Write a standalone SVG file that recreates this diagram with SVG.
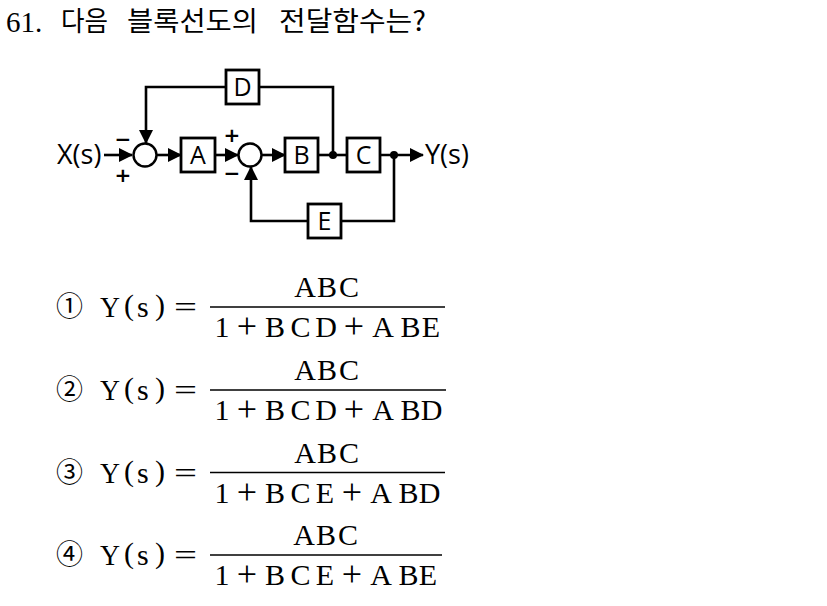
<svg xmlns="http://www.w3.org/2000/svg" width="827" height="606" viewBox="0 0 827 606">
<defs>
<marker id="ah" markerWidth="14" markerHeight="14" refX="13" refY="7" orient="auto" markerUnits="userSpaceOnUse">
<path d="M0,0 L14,7 L0,14 Z" fill="#000"/>
</marker>
<style>
.ln{fill:none;stroke:#000;stroke-width:2.6}
.bx{fill:#fff;stroke:#000;stroke-width:2.8}
.sj{fill:#fff;stroke:#000;stroke-width:2.4}
.lb{font-family:"Open Sans","Noto Sans",sans-serif;font-size:27px;fill:#000}
.bl{font-family:"Open Sans","Noto Sans",sans-serif;font-size:25px;fill:#000;text-anchor:middle}
.sg{font-family:"DejaVu Sans",sans-serif;font-size:20px;font-weight:bold;fill:#000;text-anchor:middle}
.eq{font-family:"Liberation Serif",serif;font-size:30px;fill:#000}
.mid{text-anchor:middle}
.pl{font-size:36px}
.cn{font-family:"Noto Sans CJK KR",sans-serif;font-size:27px;fill:#000}
.kr{font-family:"Noto Sans CJK KR",sans-serif;font-size:27px;fill:#000}
.fl{stroke:#000;stroke-width:1.5}
</style>
</defs>
<rect width="827" height="606" fill="#fff"/>
<g id="title">
<text font-family="'Liberation Serif',serif" font-size="29" x="6" y="32" fill="#000">61.</text>
<text class="kr" x="61" y="31" textLength="47" lengthAdjust="spacingAndGlyphs">다음</text>
<text class="kr" x="127" y="31" textLength="131" lengthAdjust="spacingAndGlyphs">블록선도의</text>
<text class="kr" x="279" y="31" textLength="147" lengthAdjust="spacingAndGlyphs">전달함수는?</text>
</g>

<g id="connectors">
<line class="ln" x1="104" y1="155" x2="132" y2="155" marker-end="url(#ah)"/>
<line class="ln" x1="156" y1="155" x2="181" y2="155" marker-end="url(#ah)"/>
<line class="ln" x1="215" y1="155" x2="238" y2="155" marker-end="url(#ah)"/>
<line class="ln" x1="262" y1="155" x2="285" y2="155" marker-end="url(#ah)"/>
<line class="ln" x1="318" y1="155" x2="347" y2="155"/>
<line class="ln" x1="380" y1="155" x2="423" y2="155" marker-end="url(#ah)"/>
<polyline class="ln" points="333,155 333,87 259,87"/>
<polyline class="ln" points="226,87 146,87 146,143" marker-end="url(#ah)"/>
<polyline class="ln" points="394,155 394,221 341,221"/>
<polyline class="ln" points="308,221 251,221 251,167" marker-end="url(#ah)"/>
<circle cx="333" cy="155" r="4" fill="#000"/>
<circle cx="394" cy="155" r="4" fill="#000"/>
</g>

<g id="input"><text class="lb" x="57" y="164">X(s)</text></g>
<g id="output"><text class="lb" x="425" y="164">Y(s)</text></g>
<g id="sum1">
<circle class="sj" cx="145" cy="155" r="11.5"/>
<text class="sg" x="123" y="146">−</text>
<text class="sg" x="123" y="182">+</text>
</g>
<g id="sum2">
<circle class="sj" cx="250" cy="155" r="11.5"/>
<text class="sg" x="232" y="142">+</text>
<text class="sg" x="232" y="180">−</text>
</g>
<g id="A"><rect class="bx" x="181" y="138" width="34" height="34"/><text class="bl" x="198" y="164">A</text></g>
<g id="B"><rect class="bx" x="285" y="138" width="33" height="34"/><text class="bl" x="301.5" y="164">B</text></g>
<g id="C"><rect class="bx" x="347" y="138" width="33" height="34"/><text class="bl" x="363.5" y="164">C</text></g>
<g id="D"><rect class="bx" x="226" y="70" width="33" height="34"/><text class="bl" x="242.5" y="96">D</text></g>
<g id="E"><rect class="bx" x="308" y="204" width="33" height="34"/><text class="bl" x="324.5" y="230">E</text></g>

<g id="opt1">
<text class="cn" x="56" y="316">①</text>
<text class="eq" x="100" y="317" font-size="32" textLength="20" lengthAdjust="spacingAndGlyphs">Y</text>
<text class="eq" x="124" y="315" font-size="32">(</text>
<text class="eq" x="137" y="317" font-size="34">s</text>
<text class="eq" x="155" y="315" font-size="32">)</text>
<text class="eq" x="174" y="317" font-size="32" textLength="23" lengthAdjust="spacingAndGlyphs">=</text>
<text class="eq mid" y="297"><tspan x="305">A</tspan><tspan x="327">B</tspan><tspan x="349">C</tspan></text>
<line class="fl" x1="210" y1="307" x2="445" y2="307"/>
<text class="eq mid" y="337"><tspan x="222">1</tspan><tspan class="pl" x="247" dy="1">+</tspan><tspan x="275" dy="-1">B</tspan><tspan x="300.5">C</tspan><tspan x="326">D</tspan><tspan class="pl" x="354" dy="1">+</tspan><tspan x="383" dy="-1">A</tspan><tspan x="410.5">B</tspan><tspan x="431">E</tspan></text>
</g>
<g id="opt2" transform="translate(0,83)">
<text class="cn" x="56" y="316">②</text>
<text class="eq" x="100" y="317" font-size="32" textLength="20" lengthAdjust="spacingAndGlyphs">Y</text>
<text class="eq" x="124" y="315" font-size="32">(</text>
<text class="eq" x="137" y="317" font-size="34">s</text>
<text class="eq" x="155" y="315" font-size="32">)</text>
<text class="eq" x="174" y="317" font-size="32" textLength="23" lengthAdjust="spacingAndGlyphs">=</text>
<text class="eq mid" y="297"><tspan x="305">A</tspan><tspan x="327">B</tspan><tspan x="349">C</tspan></text>
<line class="fl" x1="210" y1="307" x2="446" y2="307"/>
<text class="eq mid" y="337"><tspan x="222">1</tspan><tspan class="pl" x="247" dy="1">+</tspan><tspan x="275" dy="-1">B</tspan><tspan x="300.5">C</tspan><tspan x="326">D</tspan><tspan class="pl" x="354" dy="1">+</tspan><tspan x="383" dy="-1">A</tspan><tspan x="410.5">B</tspan><tspan x="431.5">D</tspan></text>
</g>
<g id="opt3" transform="translate(0,165.5)">
<text class="cn" x="56" y="316">③</text>
<text class="eq" x="100" y="317" font-size="32" textLength="20" lengthAdjust="spacingAndGlyphs">Y</text>
<text class="eq" x="124" y="315" font-size="32">(</text>
<text class="eq" x="137" y="317" font-size="34">s</text>
<text class="eq" x="155" y="315" font-size="32">)</text>
<text class="eq" x="174" y="317" font-size="32" textLength="23" lengthAdjust="spacingAndGlyphs">=</text>
<text class="eq mid" y="297"><tspan x="305">A</tspan><tspan x="327">B</tspan><tspan x="349">C</tspan></text>
<line class="fl" x1="210" y1="307" x2="445" y2="307"/>
<text class="eq mid" y="337"><tspan x="222">1</tspan><tspan class="pl" x="247" dy="1">+</tspan><tspan x="275" dy="-1">B</tspan><tspan x="300.5">C</tspan><tspan x="325">E</tspan><tspan class="pl" x="352" dy="1">+</tspan><tspan x="381" dy="-1">A</tspan><tspan x="408.5">B</tspan><tspan x="429.5">D</tspan></text>
</g>
<g id="opt4" transform="translate(0,248)">
<text class="cn" x="56" y="316">④</text>
<text class="eq" x="100" y="317" font-size="32" textLength="20" lengthAdjust="spacingAndGlyphs">Y</text>
<text class="eq" x="124" y="315" font-size="32">(</text>
<text class="eq" x="137" y="317" font-size="34">s</text>
<text class="eq" x="155" y="315" font-size="32">)</text>
<text class="eq" x="174" y="317" font-size="32" textLength="23" lengthAdjust="spacingAndGlyphs">=</text>
<text class="eq mid" y="297"><tspan x="304">A</tspan><tspan x="326">B</tspan><tspan x="348">C</tspan></text>
<line class="fl" x1="210" y1="307" x2="442" y2="307"/>
<text class="eq mid" y="337"><tspan x="222">1</tspan><tspan class="pl" x="247" dy="1">+</tspan><tspan x="275" dy="-1">B</tspan><tspan x="300.5">C</tspan><tspan x="325">E</tspan><tspan class="pl" x="352" dy="1">+</tspan><tspan x="381" dy="-1">A</tspan><tspan x="408.5">B</tspan><tspan x="428">E</tspan></text>
</g>
</svg>
